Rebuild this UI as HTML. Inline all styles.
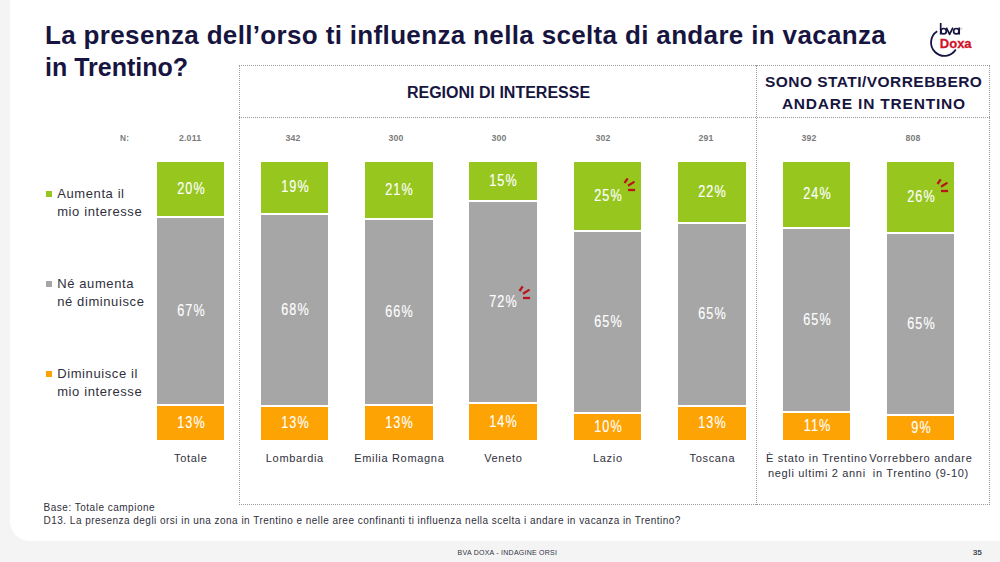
<!DOCTYPE html>
<html><head><meta charset="utf-8"><style>
html,body{margin:0;padding:0}
body{width:1000px;height:562px;background:#f4f4f4;position:relative;overflow:hidden;font-family:"Liberation Sans",sans-serif}
.card{position:absolute;left:10px;top:0;width:990px;height:541px;background:#fff;border-bottom-left-radius:20px}
.t{position:absolute;white-space:nowrap}
.b{position:absolute;width:67px}
.hl{position:absolute;height:0;border-top:1px dotted #9a9a9a}
.vl{position:absolute;width:0;border-left:1px dotted #9a9a9a}
</style></head><body>
<div class="card"></div>
<div class="t" style="left:45.00px;top:19.84px;font-size:25px;line-height:30.0px;font-weight:700;color:#17153f;letter-spacing:0.33px;transform:scaleX(1.04);transform-origin:0 0;">La presenza dell’orso ti influenza nella scelta di andare in vacanza</div>
<div class="t" style="left:45.00px;top:51.64px;font-size:25px;line-height:30.0px;font-weight:700;color:#17153f;letter-spacing:0px;">in Trentino?</div>
<svg class="t" style="left:920px;top:14px" width="60" height="50" viewBox="920 14 60 50">
<path d="M937.2,31.2 A13.4,13.4 0 1 0 955.8,49.6" fill="none" stroke="#15133f" stroke-width="1.8"/>
<g fill="none" stroke="#15133f" stroke-width="1.7" stroke-linejoin="round">
<path d="M940.7,23 V34.6"/>
<circle cx="943.6" cy="31.2" r="2.7"/>
<path d="M946.3,27.7 L949.6,34.3 L952.9,27.7"/>
<circle cx="956.3" cy="31.2" r="2.7"/>
<path d="M959.2,27.5 V34.6"/>
</g>
<circle cx="961.2" cy="28.6" r="0.8" fill="none" stroke="#888" stroke-width="0.4"/>
<text x="939.8" y="47.6" font-family="Liberation Sans" font-size="13" font-weight="700" fill="#d0142a" stroke="#d0142a" stroke-width="0.3">Doxa</text>
</svg>
<div class="hl" style="left:239px;top:65px;width:751px"></div>
<div class="hl" style="left:239px;top:117px;width:751px"></div>
<div class="hl" style="left:239px;top:504px;width:751px"></div>
<div class="vl" style="left:239px;top:65px;height:440px"></div>
<div class="vl" style="left:756px;top:65px;height:440px"></div>
<div class="vl" style="left:989px;top:65px;height:440px"></div>
<div class="t" style="left:198.50px;width:600px;text-align:center;top:83.06px;font-size:16px;line-height:19.2px;font-weight:700;color:#17153f;letter-spacing:0px;text-indent:0px;">REGIONI DI INTERESSE</div>
<div class="t" style="left:573.50px;width:600px;text-align:center;top:73.33px;font-size:15.5px;line-height:18.6px;font-weight:700;color:#17153f;letter-spacing:0.45px;text-indent:0.45px;">SONO STATI/VORREBBERO</div>
<div class="t" style="left:573.50px;width:600px;text-align:center;top:94.83px;font-size:15.5px;line-height:18.6px;font-weight:700;color:#17153f;letter-spacing:0.8px;text-indent:0.8px;">ANDARE IN TRENTINO</div>
<div class="t" style="left:120.20px;top:132.89px;font-size:9.2px;line-height:11.04px;font-weight:700;color:#7b7b7b;letter-spacing:0.3px;transform:scaleX(0.9);transform-origin:0 0;">N:</div>
<div class="t" style="left:-110.50px;width:600px;text-align:center;top:133.09px;font-size:9.2px;line-height:11.04px;font-weight:700;color:#7b7b7b;letter-spacing:0.2px;text-indent:0.2px;transform:scaleX(0.95);">2.011</div>
<div class="t" style="left:-7.20px;width:600px;text-align:center;top:133.09px;font-size:9.2px;line-height:11.04px;font-weight:700;color:#7b7b7b;letter-spacing:0.2px;text-indent:0.2px;transform:scaleX(0.95);">342</div>
<div class="t" style="left:96.10px;width:600px;text-align:center;top:133.09px;font-size:9.2px;line-height:11.04px;font-weight:700;color:#7b7b7b;letter-spacing:0.2px;text-indent:0.2px;transform:scaleX(0.95);">300</div>
<div class="t" style="left:199.40px;width:600px;text-align:center;top:133.09px;font-size:9.2px;line-height:11.04px;font-weight:700;color:#7b7b7b;letter-spacing:0.2px;text-indent:0.2px;transform:scaleX(0.95);">300</div>
<div class="t" style="left:302.70px;width:600px;text-align:center;top:133.09px;font-size:9.2px;line-height:11.04px;font-weight:700;color:#7b7b7b;letter-spacing:0.2px;text-indent:0.2px;transform:scaleX(0.95);">302</div>
<div class="t" style="left:406.00px;width:600px;text-align:center;top:133.09px;font-size:9.2px;line-height:11.04px;font-weight:700;color:#7b7b7b;letter-spacing:0.2px;text-indent:0.2px;transform:scaleX(0.95);">291</div>
<div class="t" style="left:509.30px;width:600px;text-align:center;top:133.09px;font-size:9.2px;line-height:11.04px;font-weight:700;color:#7b7b7b;letter-spacing:0.2px;text-indent:0.2px;transform:scaleX(0.95);">392</div>
<div class="t" style="left:612.60px;width:600px;text-align:center;top:133.09px;font-size:9.2px;line-height:11.04px;font-weight:700;color:#7b7b7b;letter-spacing:0.2px;text-indent:0.2px;transform:scaleX(0.95);">808</div>
<div class="t" style="left:46px;top:191px;width:6px;height:6px;background:#97c71f"></div>
<div class="t" style="left:57.20px;top:185.50px;font-size:13px;line-height:15.6px;font-weight:400;color:#30303c;letter-spacing:0.6px;">Aumenta il</div>
<div class="t" style="left:57.20px;top:203.80px;font-size:13px;line-height:15.6px;font-weight:400;color:#30303c;letter-spacing:0.6px;">mio interesse</div>
<div class="t" style="left:46px;top:281px;width:6px;height:6px;background:#a6a6a6"></div>
<div class="t" style="left:57.20px;top:275.50px;font-size:13px;line-height:15.6px;font-weight:400;color:#30303c;letter-spacing:0.6px;">Né aumenta</div>
<div class="t" style="left:57.20px;top:293.80px;font-size:13px;line-height:15.6px;font-weight:400;color:#30303c;letter-spacing:0.6px;">né diminuisce</div>
<div class="t" style="left:46px;top:371px;width:6px;height:6px;background:#fda304"></div>
<div class="t" style="left:57.20px;top:365.50px;font-size:13px;line-height:15.6px;font-weight:400;color:#30303c;letter-spacing:0.6px;">Diminuisce il</div>
<div class="t" style="left:57.20px;top:383.80px;font-size:13px;line-height:15.6px;font-weight:400;color:#30303c;letter-spacing:0.6px;">mio interesse</div>
<div class="b" style="left:157px;width:67px;top:162px;height:54px;background:#97c71f"></div>
<div class="b" style="left:157px;width:67px;top:218px;height:186px;background:#a6a6a6"></div>
<div class="b" style="left:157px;width:67px;top:406px;height:34px;background:#fda304"></div>
<div class="t" style="left:-109.50px;width:600px;text-align:center;top:179.75px;font-size:15.8px;line-height:18.96px;font-weight:400;color:#ffffff;letter-spacing:1.3px;text-indent:1.3px;transform:scaleX(0.8);-webkit-text-stroke:0.15px #fff;">20%</div>
<div class="t" style="left:-109.50px;width:600px;text-align:center;top:301.75px;font-size:15.8px;line-height:18.96px;font-weight:400;color:#ffffff;letter-spacing:1.3px;text-indent:1.3px;transform:scaleX(0.8);-webkit-text-stroke:0.15px #fff;">67%</div>
<div class="t" style="left:-109.50px;width:600px;text-align:center;top:413.75px;font-size:15.8px;line-height:18.96px;font-weight:400;color:#ffffff;letter-spacing:1.3px;text-indent:1.3px;transform:scaleX(0.8);-webkit-text-stroke:0.15px #fff;">13%</div>
<div class="b" style="left:261px;width:67px;top:162px;height:51px;background:#97c71f"></div>
<div class="b" style="left:261px;width:67px;top:215px;height:190px;background:#a6a6a6"></div>
<div class="b" style="left:261px;width:67px;top:407px;height:33px;background:#fda304"></div>
<div class="t" style="left:-5.50px;width:600px;text-align:center;top:178.25px;font-size:15.8px;line-height:18.96px;font-weight:400;color:#ffffff;letter-spacing:1.3px;text-indent:1.3px;transform:scaleX(0.8);-webkit-text-stroke:0.15px #fff;">19%</div>
<div class="t" style="left:-5.50px;width:600px;text-align:center;top:300.75px;font-size:15.8px;line-height:18.96px;font-weight:400;color:#ffffff;letter-spacing:1.3px;text-indent:1.3px;transform:scaleX(0.8);-webkit-text-stroke:0.15px #fff;">68%</div>
<div class="t" style="left:-5.50px;width:600px;text-align:center;top:414.25px;font-size:15.8px;line-height:18.96px;font-weight:400;color:#ffffff;letter-spacing:1.3px;text-indent:1.3px;transform:scaleX(0.8);-webkit-text-stroke:0.15px #fff;">13%</div>
<div class="b" style="left:365px;width:68px;top:162px;height:56px;background:#97c71f"></div>
<div class="b" style="left:365px;width:68px;top:220px;height:184px;background:#a6a6a6"></div>
<div class="b" style="left:365px;width:68px;top:406px;height:34px;background:#fda304"></div>
<div class="t" style="left:99.00px;width:600px;text-align:center;top:180.75px;font-size:15.8px;line-height:18.96px;font-weight:400;color:#ffffff;letter-spacing:1.3px;text-indent:1.3px;transform:scaleX(0.8);-webkit-text-stroke:0.15px #fff;">21%</div>
<div class="t" style="left:99.00px;width:600px;text-align:center;top:302.75px;font-size:15.8px;line-height:18.96px;font-weight:400;color:#ffffff;letter-spacing:1.3px;text-indent:1.3px;transform:scaleX(0.8);-webkit-text-stroke:0.15px #fff;">66%</div>
<div class="t" style="left:99.00px;width:600px;text-align:center;top:413.75px;font-size:15.8px;line-height:18.96px;font-weight:400;color:#ffffff;letter-spacing:1.3px;text-indent:1.3px;transform:scaleX(0.8);-webkit-text-stroke:0.15px #fff;">13%</div>
<div class="b" style="left:469px;width:68px;top:162px;height:38px;background:#97c71f"></div>
<div class="b" style="left:469px;width:68px;top:202px;height:200px;background:#a6a6a6"></div>
<div class="b" style="left:469px;width:68px;top:404px;height:36px;background:#fda304"></div>
<div class="t" style="left:203.00px;width:600px;text-align:center;top:171.75px;font-size:15.8px;line-height:18.96px;font-weight:400;color:#ffffff;letter-spacing:1.3px;text-indent:1.3px;transform:scaleX(0.8);-webkit-text-stroke:0.15px #fff;">15%</div>
<div class="t" style="left:203.00px;width:600px;text-align:center;top:292.75px;font-size:15.8px;line-height:18.96px;font-weight:400;color:#ffffff;letter-spacing:1.3px;text-indent:1.3px;transform:scaleX(0.8);-webkit-text-stroke:0.15px #fff;">72%</div>
<div class="t" style="left:203.00px;width:600px;text-align:center;top:412.75px;font-size:15.8px;line-height:18.96px;font-weight:400;color:#ffffff;letter-spacing:1.3px;text-indent:1.3px;transform:scaleX(0.8);-webkit-text-stroke:0.15px #fff;">14%</div>
<div class="b" style="left:574px;width:67px;top:162px;height:68px;background:#97c71f"></div>
<div class="b" style="left:574px;width:67px;top:232px;height:180px;background:#a6a6a6"></div>
<div class="b" style="left:574px;width:67px;top:414px;height:26px;background:#fda304"></div>
<div class="t" style="left:307.50px;width:600px;text-align:center;top:186.75px;font-size:15.8px;line-height:18.96px;font-weight:400;color:#ffffff;letter-spacing:1.3px;text-indent:1.3px;transform:scaleX(0.8);-webkit-text-stroke:0.15px #fff;">25%</div>
<div class="t" style="left:307.50px;width:600px;text-align:center;top:312.75px;font-size:15.8px;line-height:18.96px;font-weight:400;color:#ffffff;letter-spacing:1.3px;text-indent:1.3px;transform:scaleX(0.8);-webkit-text-stroke:0.15px #fff;">65%</div>
<div class="t" style="left:307.50px;width:600px;text-align:center;top:417.75px;font-size:15.8px;line-height:18.96px;font-weight:400;color:#ffffff;letter-spacing:1.3px;text-indent:1.3px;transform:scaleX(0.8);-webkit-text-stroke:0.15px #fff;">10%</div>
<div class="b" style="left:678px;width:68px;top:162px;height:60px;background:#97c71f"></div>
<div class="b" style="left:678px;width:68px;top:224px;height:181px;background:#a6a6a6"></div>
<div class="b" style="left:678px;width:68px;top:407px;height:33px;background:#fda304"></div>
<div class="t" style="left:412.00px;width:600px;text-align:center;top:182.75px;font-size:15.8px;line-height:18.96px;font-weight:400;color:#ffffff;letter-spacing:1.3px;text-indent:1.3px;transform:scaleX(0.8);-webkit-text-stroke:0.15px #fff;">22%</div>
<div class="t" style="left:412.00px;width:600px;text-align:center;top:305.25px;font-size:15.8px;line-height:18.96px;font-weight:400;color:#ffffff;letter-spacing:1.3px;text-indent:1.3px;transform:scaleX(0.8);-webkit-text-stroke:0.15px #fff;">65%</div>
<div class="t" style="left:412.00px;width:600px;text-align:center;top:414.25px;font-size:15.8px;line-height:18.96px;font-weight:400;color:#ffffff;letter-spacing:1.3px;text-indent:1.3px;transform:scaleX(0.8);-webkit-text-stroke:0.15px #fff;">13%</div>
<div class="b" style="left:783px;width:67px;top:162px;height:65px;background:#97c71f"></div>
<div class="b" style="left:783px;width:67px;top:229px;height:182px;background:#a6a6a6"></div>
<div class="b" style="left:783px;width:67px;top:413px;height:27px;background:#fda304"></div>
<div class="t" style="left:516.50px;width:600px;text-align:center;top:185.25px;font-size:15.8px;line-height:18.96px;font-weight:400;color:#ffffff;letter-spacing:1.3px;text-indent:1.3px;transform:scaleX(0.8);-webkit-text-stroke:0.15px #fff;">24%</div>
<div class="t" style="left:516.50px;width:600px;text-align:center;top:310.75px;font-size:15.8px;line-height:18.96px;font-weight:400;color:#ffffff;letter-spacing:1.3px;text-indent:1.3px;transform:scaleX(0.8);-webkit-text-stroke:0.15px #fff;">65%</div>
<div class="t" style="left:516.50px;width:600px;text-align:center;top:417.25px;font-size:15.8px;line-height:18.96px;font-weight:400;color:#ffffff;letter-spacing:1.3px;text-indent:1.3px;transform:scaleX(0.8);-webkit-text-stroke:0.15px #fff;">11%</div>
<div class="b" style="left:887px;width:67px;top:162px;height:70px;background:#97c71f"></div>
<div class="b" style="left:887px;width:67px;top:234px;height:180px;background:#a6a6a6"></div>
<div class="b" style="left:887px;width:67px;top:416px;height:24px;background:#fda304"></div>
<div class="t" style="left:620.50px;width:600px;text-align:center;top:187.75px;font-size:15.8px;line-height:18.96px;font-weight:400;color:#ffffff;letter-spacing:1.3px;text-indent:1.3px;transform:scaleX(0.8);-webkit-text-stroke:0.15px #fff;">26%</div>
<div class="t" style="left:620.50px;width:600px;text-align:center;top:314.75px;font-size:15.8px;line-height:18.96px;font-weight:400;color:#ffffff;letter-spacing:1.3px;text-indent:1.3px;transform:scaleX(0.8);-webkit-text-stroke:0.15px #fff;">65%</div>
<div class="t" style="left:620.50px;width:600px;text-align:center;top:418.75px;font-size:15.8px;line-height:18.96px;font-weight:400;color:#ffffff;letter-spacing:1.3px;text-indent:1.3px;transform:scaleX(0.8);-webkit-text-stroke:0.15px #fff;">9%</div>
<svg class="t" style="left:935.4px;top:176.6px" width="18" height="18" viewBox="935.4 176.6 18 18"><g stroke="#b8161b" stroke-width="2.3" stroke-linecap="butt" fill="none"><path d="M937.9,183.6 L941.1,178.9"/><path d="M941.4,186.29999999999998 L947.9,182.2"/><path d="M941.4,190.6 L948.5,190.6"/></g></svg>
<svg class="t" style="left:516.5px;top:283.6px" width="18" height="18" viewBox="516.5 283.6 18 18"><g stroke="#b8161b" stroke-width="2.3" stroke-linecap="butt" fill="none"><path d="M519.0,290.6 L522.2,285.90000000000003"/><path d="M522.5,293.3 L529.0,289.20000000000005"/><path d="M522.5,297.6 L529.6,297.6"/></g></svg>
<svg class="t" style="left:622.2px;top:176.4px" width="18" height="18" viewBox="622.2 176.4 18 18"><g stroke="#b8161b" stroke-width="2.3" stroke-linecap="butt" fill="none"><path d="M624.7,183.4 L627.9000000000001,178.70000000000002"/><path d="M628.2,186.1 L634.7,182.0"/><path d="M628.2,190.4 L635.3000000000001,190.4"/></g></svg>
<div class="t" style="left:-109.50px;width:600px;text-align:center;top:451.79px;font-size:11px;line-height:13.2px;font-weight:400;color:#30303c;letter-spacing:0.68px;text-indent:0.68px;">Totale</div>
<div class="t" style="left:-5.50px;width:600px;text-align:center;top:451.79px;font-size:11px;line-height:13.2px;font-weight:400;color:#30303c;letter-spacing:0.68px;text-indent:0.68px;">Lombardia</div>
<div class="t" style="left:99.00px;width:600px;text-align:center;top:451.79px;font-size:11px;line-height:13.2px;font-weight:400;color:#30303c;letter-spacing:0.68px;text-indent:0.68px;">Emilia Romagna</div>
<div class="t" style="left:203.00px;width:600px;text-align:center;top:451.79px;font-size:11px;line-height:13.2px;font-weight:400;color:#30303c;letter-spacing:0.68px;text-indent:0.68px;">Veneto</div>
<div class="t" style="left:307.50px;width:600px;text-align:center;top:451.79px;font-size:11px;line-height:13.2px;font-weight:400;color:#30303c;letter-spacing:0.68px;text-indent:0.68px;">Lazio</div>
<div class="t" style="left:412.00px;width:600px;text-align:center;top:451.79px;font-size:11px;line-height:13.2px;font-weight:400;color:#30303c;letter-spacing:0.68px;text-indent:0.68px;">Toscana</div>
<div class="t" style="left:516.50px;width:600px;text-align:center;top:451.79px;font-size:11px;line-height:13.2px;font-weight:400;color:#30303c;letter-spacing:0.68px;text-indent:0.68px;">È stato in Trentino</div>
<div class="t" style="left:516.50px;width:600px;text-align:center;top:466.79px;font-size:11px;line-height:13.2px;font-weight:400;color:#30303c;letter-spacing:0.68px;text-indent:0.68px;">negli ultimi 2 anni</div>
<div class="t" style="left:620.50px;width:600px;text-align:center;top:451.79px;font-size:11px;line-height:13.2px;font-weight:400;color:#30303c;letter-spacing:0.68px;text-indent:0.68px;">Vorrebbero andare</div>
<div class="t" style="left:620.50px;width:600px;text-align:center;top:466.79px;font-size:11px;line-height:13.2px;font-weight:400;color:#30303c;letter-spacing:0.68px;text-indent:0.68px;">in Trentino (9-10)</div>
<div class="t" style="left:43.60px;top:501.64px;font-size:10px;line-height:12.0px;font-weight:400;color:#30303c;letter-spacing:0.5px;">Base: Totale campione</div>
<div class="t" style="left:43.60px;top:515.24px;font-size:10px;line-height:12.0px;font-weight:400;color:#30303c;letter-spacing:0.47px;">D13. La presenza degli orsi in una zona in Trentino e nelle aree confinanti ti influenza nella scelta i andare in vacanza in Trentino?</div>
<div class="t" style="left:207.30px;width:600px;text-align:center;top:549.17px;font-size:7px;line-height:8.4px;font-weight:400;color:#333344;letter-spacing:0.25px;text-indent:0.25px;">BVA DOXA - INDAGINE ORSI</div>
<div class="t" style="left:973.00px;top:547.81px;font-size:7.6px;line-height:9.12px;font-weight:400;color:#2a2a3a;letter-spacing:0.2px;-webkit-text-stroke:0.2px #2a2a3a;">35</div>
</body></html>
